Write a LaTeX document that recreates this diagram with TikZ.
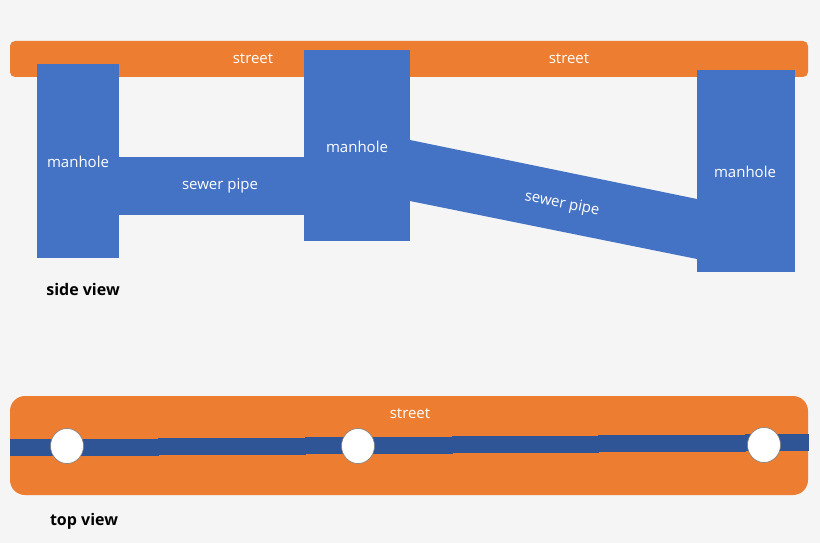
\documentclass[tikz,border=0pt]{standalone}
\usepackage{fontspec}
\setmainfont{Open Sans}
\definecolor{bg}{HTML}{F5F5F5}
\definecolor{org}{HTML}{ED7D31}
\definecolor{blu}{HTML}{4472C4}
\definecolor{dblu}{HTML}{2F5597}
\begin{document}
\begin{tikzpicture}[x=1pt,y=-1pt,
  lbl/.style={text=white,font=\fontsize{15}{17}\selectfont},
  viewcap/.style={font=\bfseries\fontsize{16}{18}\selectfont,text=black},
  mh/.style={fill=white,draw=gray,line width=0.6pt},
  seg/.style={fill=dblu}]
\fill[bg] (0,0) rectangle (820,543);
\useasboundingbox (0,0) rectangle (820,543);
% side view
\fill[org,rounded corners=5] (10,41) rectangle (808,77);
\node[lbl] (s1) at (253,59) {street};
\node[lbl] (s2) at (569,59) {street};
\fill[blu] (119,157) rectangle (305,215);
\fill[blu] (410,140) -- (697,199) -- (697,259) -- (410,201) -- cycle;
\fill[blu] (37,64) rectangle (119,258);
\fill[blu] (304,50) rectangle (410,241);
\fill[blu] (697,70) rectangle (795,272);
\node[lbl] (m1) at (78,162) {manhole};
\node[lbl] (m2) at (357,147) {manhole};
\node[lbl] (m3) at (745,172) {manhole};
\node[lbl] (p1) at (220,186) {sewer pipe};
\node[lbl,rotate=-11.5] (p2) at (562,204) {sewer pipe};
\node[viewcap] (sv) at (83,289) {side view};
% top view
\fill[org,rounded corners=15] (10,396) rectangle (808,495);
\node[lbl] (s3) at (410,414) {street};
\fill[seg] (10,439) rectangle (159,455.5);
\fill[seg] (158,437.7) rectangle (306,455);
\fill[seg] (305,436.7) rectangle (453,454);
\fill[seg] (452,436) rectangle (599,453);
\fill[seg] (598,435) rectangle (746,452);
\fill[seg] (745,434) rectangle (809,451);
\draw[mh] (67,446) ellipse [x radius=16.5, y radius=17.5];
\draw[mh] (358,446) ellipse [x radius=16.5, y radius=17.5];
\draw[mh] (764,445) ellipse [x radius=16.5, y radius=17.5];
\node[viewcap] (tv) at (84,521) {top view};
\end{tikzpicture}
\end{document}
